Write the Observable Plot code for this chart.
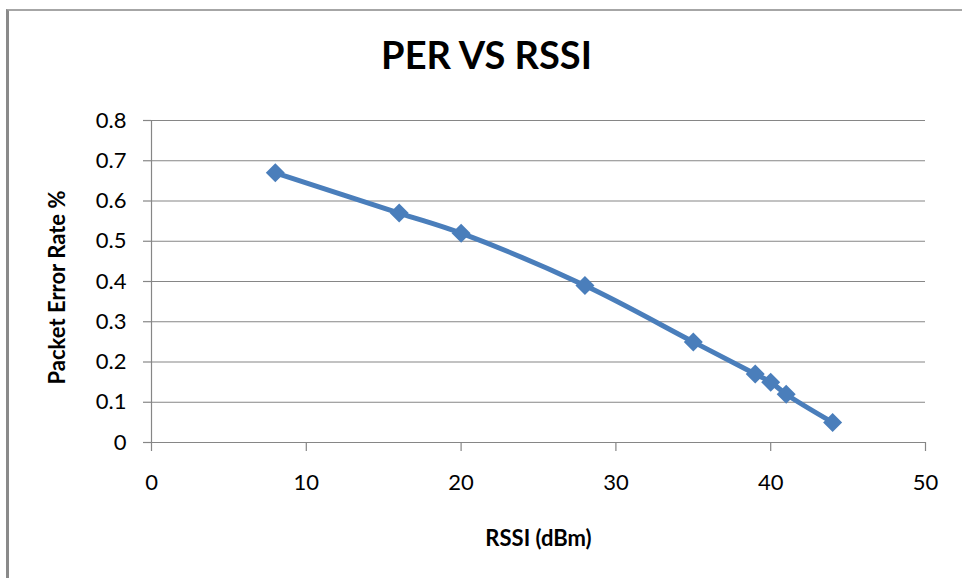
<!DOCTYPE html>
<html>
<head>
<meta charset="utf-8">
<script src="https://cdn.jsdelivr.net/npm/d3@7"></script>
<script src="https://cdn.jsdelivr.net/npm/@observablehq/plot@0.6"></script>
<style>
  html, body { margin: 0; padding: 0; background: #fff; }
  #wrap { position: relative; width: 962px; height: 578px; overflow: hidden; }
  #border { position: absolute; left: 6px; top: 9px; right: -5px; bottom: -5px;
            border-left: 3px solid #8a8a8a; border-top: 2px solid #a6a6a6; }
  #chart { position: absolute; left: 0; top: 0; }
</style>
</head>
<body>
<div id="wrap"><div id="border"></div><div id="chart"></div></div>
<script>
const titleText = "PER VS RSSI";
const xLabel = "RSSI (dBm)";
const yLabel = "Packet Error Rate %";
const rssi = [8, 16, 20, 28, 35, 39, 40, 41, 44];
const per = [0.67, 0.57, 0.52, 0.39, 0.25, 0.17, 0.15, 0.12, 0.05];
const xTicks = [0, 10, 20, 30, 40, 50];
const yTicks = [0, 0.1, 0.2, 0.3, 0.4, 0.5, 0.6, 0.7, 0.8];
const yTickLabels = ["0", "0.1", "0.2", "0.3", "0.4", "0.5", "0.6", "0.7", "0.8"];

const data = rssi.map((x, i) => ({x, y: per[i]}));
const blue = "#4a7ebb";
const grid = "#868686";

const squareDiamond = {
  draw(ctx, size) {
    const s = Math.sqrt(size / Math.PI);
    ctx.moveTo(0, -s); ctx.lineTo(s, 0); ctx.lineTo(0, s); ctx.lineTo(-s, 0); ctx.closePath();
  }
};

const chart = Plot.plot({
  width: 962, height: 578,
  marginLeft: 151, marginRight: 37, marginTop: 120, marginBottom: 136,
  x: {domain: [0, 50]},
  y: {domain: [0, 0.8]},
  style: {fontFamily: "Lato, 'Open Sans', sans-serif", fontSize: "22px", color: "#000", background: "transparent"},
  marks: [
    Plot.ruleY(yTicks, {stroke: grid, strokeWidth: 1.2}),
    Plot.ruleX([0], {stroke: grid, strokeWidth: 1.2}),
    Plot.axisY({ticks: yTicks, tickSize: 8, tickPadding: 17, stroke: grid, strokeWidth: 1.2,
                tickFormat: (d) => yTickLabels[yTicks.indexOf(d)], label: null, fontSize: 22}),
    Plot.axisX({ticks: xTicks, tickSize: 9, tickPadding: 23, stroke: grid, strokeWidth: 1.2,
                label: null, fontSize: 22}),
    Plot.line(data, {x: "x", y: "y", curve: "catmull-rom", stroke: blue, strokeWidth: 5}),
    Plot.dot(data, {x: "x", y: "y", symbol: squareDiamond, r: 9.5, fill: blue, stroke: "none"}),
    Plot.text([xLabel], {frameAnchor: "bottom", textAnchor: "middle", lineAnchor: "middle",
                         dy: 96, fontWeight: "bold", fontSize: 22}),
    Plot.text([yLabel], {frameAnchor: "left", textAnchor: "middle", lineAnchor: "middle",
                         dx: -94, dy: 6, rotate: -90, fontWeight: "bold", fontSize: 22}),
    Plot.text([titleText], {frameAnchor: "top", textAnchor: "middle", lineAnchor: "middle",
                            dx: -52, dy: -64, fontWeight: "bold", fontSize: 38})
  ]
});
document.getElementById("chart").appendChild(chart);
</script>
</body>
</html>
